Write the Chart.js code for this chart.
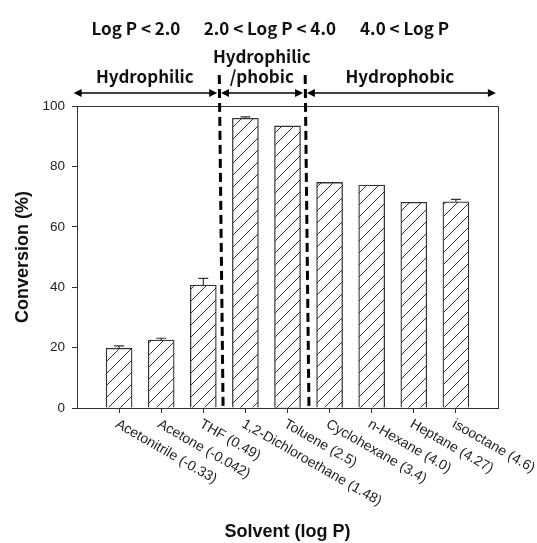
<!DOCTYPE html>
<html>
<head>
<meta charset="utf-8">
<script src="https://cdn.jsdelivr.net/npm/chart.js@4/dist/chart.umd.min.js"></script>
<style>
  html, body { margin: 0; padding: 0; background: #fff; }
  #wrap { width: 537px; height: 543px; }
</style>
</head>
<body>
<div id="wrap"><canvas id="convChart" width="537" height="543"></canvas></div>
<script>
// Solvent screening data
const solvents = [
  "Acetonitrile (-0.33)", "Acetone (-0.042)", "THF (0.49)",
  "1,2-Dichloroethane (1.48)", "Toluene (2.5)", "Cyclohexane (3.4)",
  "n-Hexane (4.0)", "Heptane (4.27)", "isooctane (4.6)"
];
const conversion = [19.8, 22.5, 40.7, 95.9, 93.4, 74.7, 73.8, 68.1, 68.3];
const errors = [0.8, 0.6, 2.2, 0.5, 0, 0, 0, 0, 0.8];
const yTicks = [0, 20, 40, 60, 80, 100];

// region annotations above the plot
const logPTexts = ["Log P < 2.0", "2.0 < Log P < 4.0", "4.0 < Log P"];
const regionTexts = [["Hydrophilic"], ["Hydrophilic", "/phobic"], ["Hydrophobic"]];

// layout of the annotations, in axis units (x = slot index, y = conversion)
const regionCenters = [1.61, 4.39, 7.67];
const logPCenters = [1.40, 4.58, 7.78];
const arrowSpans = [[-0.08, 3.33], [3.42, 5.37], [5.46, 9.95]];
const dividerTop = [3.38, 5.42];
const dividerBottom = [3.47, 5.51];

const INK = "#333";
const axisFont = "Liberation Sans, Arial, sans-serif";
const headFont = "'Noto Sans CJK KR', 'Noto Sans', sans-serif";

// hatch pattern for the bars
function makeHatch() {
  let c = document.createElement("canvas");
  c.width = 12; c.height = 12;
  let g = c.getContext("2d");
  g.fillStyle = "#fff";
  g.fillRect(0, 0, 12, 12);
  g.strokeStyle = INK;
  g.lineWidth = 1;
  g.beginPath();
  g.moveTo(-1, 13); g.lineTo(13, -1);
  g.moveTo(-1, 1); g.lineTo(1, -1);
  g.moveTo(11, 13); g.lineTo(13, 11);
  g.stroke();
  return document.getElementById("convChart").getContext("2d").createPattern(c, "repeat");
}

function arrowHead(ctx, x, y, dir) {
  ctx.beginPath();
  ctx.moveTo(x, y);
  ctx.lineTo(x - dir * 8, y - 4);
  ctx.lineTo(x - dir * 8, y + 4);
  ctx.closePath();
  ctx.fill();
}

const annotations = {
  id: "annotations",
  afterDraw(chart) {
    let ctx = chart.ctx;
    let xs = chart.scales.x, ys = chart.scales.y;
    let area = chart.chartArea;
    ctx.save();

    // top and right frame
    ctx.strokeStyle = INK;
    ctx.lineWidth = 1;
    ctx.beginPath();
    ctx.moveTo(area.left, area.top + 0.5);
    ctx.lineTo(area.right + 0.5, area.top + 0.5);
    ctx.lineTo(area.right + 0.5, area.bottom);
    ctx.stroke();

    // error bars (upper side)
    ctx.lineWidth = 1.2;
    conversion.forEach((v, i) => {
      if (!errors[i]) return;
      let x = xs.getPixelForValue(i + 1);
      let y0 = ys.getPixelForValue(v);
      let y1 = ys.getPixelForValue(v + errors[i]);
      ctx.beginPath();
      ctx.moveTo(x, y0);
      ctx.lineTo(x, y1);
      ctx.moveTo(x - 5, y1);
      ctx.lineTo(x + 5, y1);
      ctx.stroke();
    });

    // rotated category labels
    ctx.fillStyle = "#222";
    ctx.font = "14px " + axisFont;
    ctx.textAlign = "left";
    ctx.textBaseline = "top";
    solvents.forEach((s, i) => {
      let x = xs.getPixelForValue(i + 1);
      ctx.save();
      ctx.translate(x + 1, area.bottom + 9);
      ctx.rotate(30 * Math.PI / 180);
      ctx.fillText(s, 0, 0);
      ctx.restore();
    });

    // dashed dividers
    ctx.strokeStyle = "#000";
    ctx.lineWidth = 3;
    ctx.setLineDash([9, 5]);
    dividerTop.forEach((u, i) => {
      ctx.beginPath();
      ctx.moveTo(xs.getPixelForValue(u), ys.getPixelForValue(110.3));
      ctx.lineTo(xs.getPixelForValue(dividerBottom[i]), ys.getPixelForValue(0));
      ctx.stroke();
    });
    ctx.setLineDash([]);

    // double arrows
    ctx.fillStyle = "#000";
    ctx.lineWidth = 1.6;
    let ay = ys.getPixelForValue(104.3);
    arrowSpans.forEach(([a, b]) => {
      let xa = xs.getPixelForValue(a), xb = xs.getPixelForValue(b);
      ctx.beginPath();
      ctx.moveTo(xa + 4, ay);
      ctx.lineTo(xb - 4, ay);
      ctx.stroke();
      arrowHead(ctx, xa, ay, -1);
      arrowHead(ctx, xb, ay, 1);
    });

    // region names and log P ranges
    ctx.fillStyle = "#111";
    ctx.font = "bold 17px " + headFont;
    ctx.textAlign = "center";
    ctx.textBaseline = "middle";
    regionTexts.forEach((lines, i) => {
      let x = xs.getPixelForValue(regionCenters[i]);
      lines.forEach((t, k) => {
        let v = 109.6 + (lines.length - 1 - k) * 6.8;
        ctx.fillText(t, x, ys.getPixelForValue(v));
      });
    });
    logPTexts.forEach((t, i) => {
      ctx.fillText(t, xs.getPixelForValue(logPCenters[i]), ys.getPixelForValue(125.5));
    });

    ctx.restore();
  }
};

let ctx = document.getElementById("convChart").getContext("2d");
new Chart(ctx, {
  type: "bar",
  data: {
    labels: ["", ...solvents, ""],
    datasets: [
      {
        label: "Conversion (%)",
        data: [null, ...conversion, null],
        backgroundColor: makeHatch(),
        borderColor: INK,
        borderWidth: 1.3,
        barThickness: 26,
      },
    ],
  },
  options: {
    responsive: false,
    animation: false,
    layout: { padding: { top: 106, right: 39, left: 0, bottom: 0 } },
    plugins: { legend: { display: false }, tooltip: { enabled: false } },
    scales: {
      x: {
        offset: false,
        afterFit(scale) { scale.height = 135; },
        grid: {
          offset: false,
          drawOnChartArea: false,
          tickLength: 5,
          color: (c) => (c.index === 0 || c.index === solvents.length + 1 ? "rgba(0,0,0,0)" : INK),
        },
        border: { color: INK, width: 1 },
        ticks: { display: false, autoSkip: false },
        title: {
          display: true,
          text: "Solvent (log P)",
          color: "#111",
          font: { family: axisFont, size: 18, weight: "bold" },
          padding: { top: 0, bottom: 0 },
        },
      },
      y: {
        min: 0,
        max: 100,
        afterFit(scale) { scale.width = 77; },
        afterBuildTicks(scale) { scale.ticks = yTicks.map((v) => ({ value: v })); },
        grid: { drawOnChartArea: false, tickLength: 5, color: INK },
        border: { color: INK, width: 1 },
        ticks: {
          color: "#222",
          padding: 7,
          font: { family: axisFont, size: 13.5 },
        },
        title: {
          display: true,
          text: "Conversion (%)",
          color: "#111",
          font: { family: axisFont, size: 18, weight: "bold" },
          padding: { top: 12, bottom: 0 },
        },
      },
    },
  },
  plugins: [annotations],
});
</script>
</body>
</html>
